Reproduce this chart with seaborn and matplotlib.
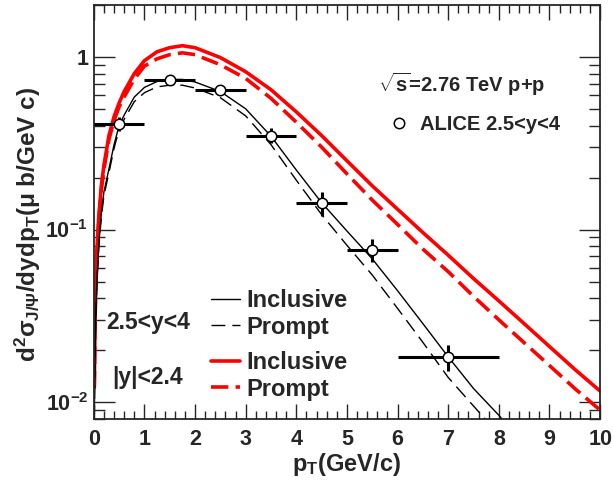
import matplotlib
matplotlib.use("Agg")
import matplotlib.pyplot as plt
import matplotlib.ticker as mticker
from matplotlib.lines import Line2D
import numpy as np
import seaborn as sns

# model curves
pt = [0.01, 0.03, 0.06, 0.1, 0.15, 0.2, 0.3, 0.4, 0.5, 0.6, 0.8, 1.0, 1.25, 1.5, 1.75,
      2.0, 2.5, 3.0, 3.5, 4.0, 4.5, 5.0, 5.5, 6.0, 6.5, 7.0, 7.5, 8.0, 8.5, 9.0, 9.5, 10.0]
cms_incl = [0.0125, 0.0375, 0.075, 0.12, 0.18, 0.235, 0.35, 0.45, 0.54, 0.63, 0.80, 0.95,
            1.07, 1.13, 1.16, 1.13, 0.99, 0.82, 0.645, 0.48, 0.35, 0.25, 0.179, 0.131,
            0.096, 0.071, 0.052, 0.0386, 0.0285, 0.021, 0.0155, 0.0116]
cms_prompt = [0.012, 0.0355, 0.071, 0.114, 0.171, 0.223, 0.333, 0.428, 0.513, 0.586, 0.744,
              0.884, 0.974, 1.03, 1.055, 1.03, 0.90, 0.75, 0.575, 0.418, 0.30, 0.21, 0.148,
              0.107, 0.077, 0.057, 0.041, 0.030, 0.0221, 0.0163, 0.012, 0.0090]
alice_incl = [0.0083, 0.025, 0.05, 0.083, 0.125, 0.165, 0.225, 0.31, 0.40, 0.46, 0.585,
              0.665, 0.72, 0.74, 0.74, 0.715, 0.63, 0.50, 0.347, 0.221, 0.143, 0.098,
              0.0676, 0.0442, 0.0285, 0.0183, 0.012, 0.0084, 0.0056, 0.004, 0.003, 0.002]
alice_prompt = [0.0079, 0.0238, 0.0475, 0.079, 0.119, 0.157, 0.214, 0.295, 0.38, 0.435,
                0.55, 0.62, 0.67, 0.685, 0.685, 0.66, 0.58, 0.455, 0.31, 0.193, 0.122,
                0.081, 0.0545, 0.0349, 0.0222, 0.0139, 0.0095, 0.0065, 0.0042, 0.003,
                0.002, 0.0015]

# ALICE data points
data_pt = [0.5, 1.5, 2.5, 3.5, 4.5, 5.5, 7.0]
data_xerr = [0.5, 0.5, 0.5, 0.5, 0.5, 0.5, 1.0]
data_y = [0.41, 0.73, 0.64, 0.35, 0.142, 0.0765, 0.0183]
data_yerr = [0.037, 0.03, 0.03, 0.035, 0.022, 0.012, 0.0032]

sns.set_style("ticks")
plt.rcParams['font.family'] = ['Liberation Sans', 'DejaVu Sans']
plt.rcParams['font.weight'] = 'bold'
plt.rcParams['mathtext.fontset'] = 'custom'
plt.rcParams['mathtext.rm'] = 'Liberation Sans:bold'
plt.rcParams['mathtext.it'] = 'Liberation Sans:bold'
plt.rcParams['mathtext.bf'] = 'Liberation Sans:bold'

fig = plt.figure(figsize=(6.13, 4.86), dpi=100)
ax = fig.add_axes([0.153, 0.138, 0.826, 0.852])

red = '#ff0000'
sns.lineplot(x=pt, y=cms_incl, ax=ax, color=red, lw=2.6, sort=False)
sns.lineplot(x=pt, y=cms_prompt, ax=ax, color=red, lw=2.6, sort=False,
             linestyle=(0, (4.8, 2.0)))
sns.lineplot(x=pt, y=alice_incl, ax=ax, color='black', lw=1.0, sort=False)
sns.lineplot(x=pt, y=alice_prompt, ax=ax, color='black', lw=1.0, sort=False,
             linestyle=(0, (10, 5)))

ax.errorbar(data_pt, data_y, xerr=data_xerr, yerr=data_yerr, fmt='o', color='black',
            elinewidth=2.2, capsize=0, ms=7.5, mfc='white', mec='black', mew=1.1,
            zorder=5)

ax.set_yscale('log')
ax.set_xlim(0, 10)
ax.set_ylim(0.008, 2.0)

ax.xaxis.set_major_locator(mticker.MultipleLocator(1))
ax.xaxis.set_minor_locator(mticker.MultipleLocator(0.2))
ax.yaxis.set_major_locator(mticker.LogLocator(base=10))
ax.yaxis.set_minor_locator(mticker.LogLocator(base=10, subs=np.arange(2, 10)))
ax.yaxis.set_minor_formatter(mticker.NullFormatter())


def yfmt(v, pos):
    e = int(round(np.log10(v)))
    return '1' if e == 0 else r'$10^{%d}$' % e


ax.yaxis.set_major_formatter(mticker.FuncFormatter(yfmt))
ax.tick_params(which='both', direction='in', top=True, right=True, labelsize=15.5)
ax.tick_params(axis='x', which='major', length=11, width=1, pad=7)
ax.tick_params(axis='x', which='minor', length=6, width=1)
ax.tick_params(axis='y', which='major', length=15, width=1, pad=4)
ax.tick_params(axis='y', which='minor', length=8, width=1)
for s in ax.spines.values():
    s.set_linewidth(1.3)

ax.set_xlabel(r'p$_{T}$(GeV/c)', fontsize=17, fontweight='bold')
ax.set_ylabel(r'd$^{2}\sigma_{J/\Psi}$/dydp$_{T}$($\mu$ b/GeV c)', fontsize=17.5,
              fontweight='bold')
ax.xaxis.set_label_coords(0.5, -0.078)
ax.yaxis.set_label_coords(-0.1, 0.47)

ax.text(0.561, 0.807, r'$\sqrt{s}$=2.76 TeV p+p', transform=ax.transAxes,
        fontsize=14.5, fontweight='bold', va='center', ha='left')
ax.text(0.024, 0.234, '2.5<y<4', transform=ax.transAxes, fontsize=16.5,
        fontweight='bold', va='center', ha='left')
ax.text(0.036, 0.099, '|y|<2.4', transform=ax.transAxes, fontsize=16.5,
        fontweight='bold', va='center', ha='left')

h_alice = Line2D([], [], ls='none', marker='o', ms=7.5, mfc='white', mec='black', mew=1.1)
leg0 = ax.legend([h_alice], ['ALICE 2.5<y<4'], loc='center left',
                 bbox_to_anchor=(0.585, 0.71), frameon=False, prop={'size': 14.5, 'weight': 'bold'},
                 handlelength=0.9, handletextpad=0.6, borderpad=0, borderaxespad=0)
ax.add_artist(leg0)

h_bs = Line2D([], [], color='black', lw=1.0)
h_bd = Line2D([], [], color='black', lw=1.0, ls=(0, (10, 5)))
leg1 = ax.legend([h_bs, h_bd], ['Inclusive', 'Prompt'], loc='center left',
                 bbox_to_anchor=(0.231, 0.254), frameon=False,
                 prop={'size': 17, 'weight': 'bold'}, handlelength=1.25,
                 handletextpad=0.25, labelspacing=0.15, borderpad=0, borderaxespad=0)
ax.add_artist(leg1)

h_rs = Line2D([], [], color=red, lw=2.6)
h_rd = Line2D([], [], color=red, lw=2.6, ls=(0, (4.8, 2.0)))
ax.legend([h_rs, h_rd], ['Inclusive', 'Prompt'], loc='center left',
          bbox_to_anchor=(0.231, 0.104), frameon=False,
          prop={'size': 17, 'weight': 'bold'}, handlelength=1.25,
          handletextpad=0.25, labelspacing=0.15, borderpad=0, borderaxespad=0)

fig.savefig('out.png', dpi=100)
